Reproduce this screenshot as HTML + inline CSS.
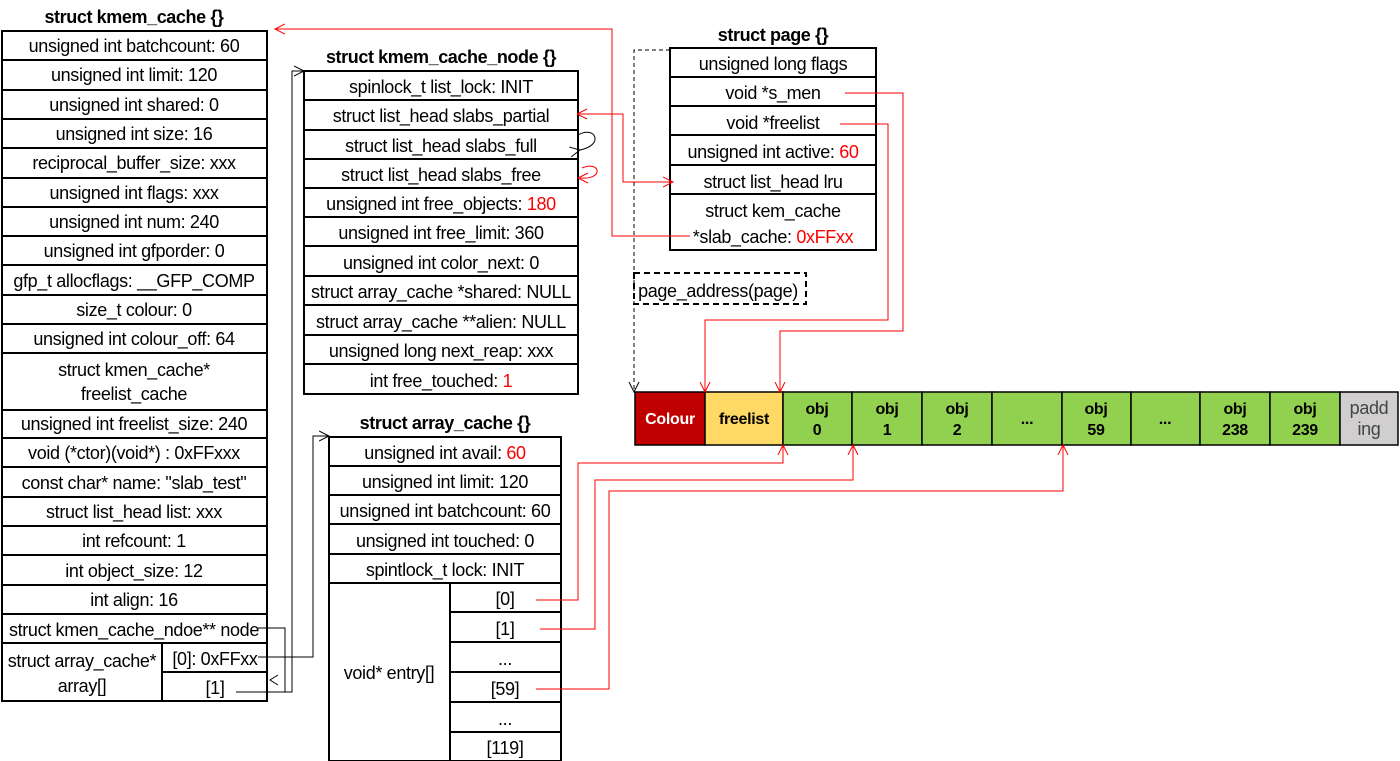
<!DOCTYPE html>
<html><head><meta charset="utf-8"><style>
html,body{margin:0;padding:0;background:#fff;width:1400px;height:761px;overflow:hidden}
svg text{font-family:"Liberation Sans",sans-serif;font-size:18px;letter-spacing:-0.35px;fill:#000}
svg text.t{font-size:18px;font-weight:bold;letter-spacing:-0.4px}
svg text.s{font-size:16px;font-weight:bold;letter-spacing:-0.3px}
</style></head><body>
<svg width="1400" height="761" xmlns="http://www.w3.org/2000/svg">
<defs>
<marker id="ab" markerWidth="12" markerHeight="12" refX="10" refY="6" orient="auto" markerUnits="userSpaceOnUse"><path d="M0,1 L10,6 L0,11" fill="none" stroke="#000" stroke-width="1"/></marker>
<marker id="ar" markerWidth="12" markerHeight="12" refX="10" refY="6" orient="auto" markerUnits="userSpaceOnUse"><path d="M0,1 L10,6 L0,11" fill="none" stroke="#f00" stroke-width="1"/></marker>
<marker id="arS" markerWidth="12" markerHeight="12" refX="0" refY="6" orient="auto" markerUnits="userSpaceOnUse"><path d="M10,1 L0,6 L10,11" fill="none" stroke="#f00" stroke-width="1"/></marker>
</defs>
<g stroke="#000" stroke-width="2" fill="none">
<rect x="2" y="31" width="265" height="670"/>
<path d="M2,60H267M2,90H267M2,119H267M2,148H267M2,178H267M2,207H267M2,236H267M2,265H267M2,295H267M2,324H267M2,353H267M2,410H267M2,438H267M2,467H267M2,497H267M2,526H267M2,555H267M2,585H267M2,614H267M2,643H267M162,643V701M162,672H267"/>
<rect x="304" y="71" width="274" height="323"/>
<path d="M304,100H578M304,130H578M304,159H578M304,188H578M304,217H578M304,246H578M304,276H578M304,305H578M304,335H578M304,364H578"/>
<rect x="329" y="437" width="232" height="324"/>
<path d="M329,466H561M329,495H561M329,524H561M329,554H561M329,583H561M450,583V761M450,612H561M450,642H561M450,672H561M450,702H561M450,732H561"/>
<rect x="670" y="48" width="206" height="202"/>
<path d="M670,77H876M670,106H876M670,135H876M670,165H876M670,194H876"/>
</g>
<g stroke="#000" stroke-width="1.5">
<rect x="635" y="392" width="70" height="53" fill="#c00000"/>
<rect x="705" y="392" width="78" height="53" fill="#ffd966"/>
<rect x="783" y="392" width="69" height="53" fill="#92d050"/>
<rect x="852" y="392" width="70" height="53" fill="#92d050"/>
<rect x="922" y="392" width="70" height="53" fill="#92d050"/>
<rect x="992" y="392" width="70" height="53" fill="#92d050"/>
<rect x="1062" y="392" width="69" height="53" fill="#92d050"/>
<rect x="1131" y="392" width="69" height="53" fill="#92d050"/>
<rect x="1200" y="392" width="70" height="53" fill="#92d050"/>
<rect x="1270" y="392" width="70" height="53" fill="#92d050"/>
<rect x="1340" y="392" width="58" height="53" fill="#d0cece"/>
</g>
<g text-anchor="middle">
<text class="s" x="670" y="424" style="fill:#fff">Colour</text>
<text class="s" x="744" y="424">freelist</text>
<text class="s" x="817" y="414">obj</text><text class="s" x="817" y="435">0</text>
<text class="s" x="887" y="414">obj</text><text class="s" x="887" y="435">1</text>
<text class="s" x="957" y="414">obj</text><text class="s" x="957" y="435">2</text>
<text class="s" x="1027" y="424">...</text>
<text class="s" x="1096" y="414">obj</text><text class="s" x="1096" y="435">59</text>
<text class="s" x="1165" y="424">...</text>
<text class="s" x="1235" y="414">obj</text><text class="s" x="1235" y="435">238</text>
<text class="s" x="1305" y="414">obj</text><text class="s" x="1305" y="435">239</text>
<text x="1369" y="414" style="fill:#444">padd</text><text x="1369" y="435" style="fill:#444">ing</text>
</g>
<g text-anchor="middle">
<text class="t" x="134" y="23">struct kmem_cache {}</text>
<text class="t" x="441" y="63">struct kmem_cache_node {}</text>
<text class="t" x="445" y="429">struct array_cache {}</text>
<text class="t" x="773" y="41">struct page {}</text>
</g>
<g text-anchor="middle">
<text x="134" y="52">unsigned int batchcount: 60</text>
<text x="134" y="81">unsigned int limit: 120</text>
<text x="134" y="111">unsigned int shared: 0</text>
<text x="134" y="140">unsigned int size: 16</text>
<text x="134" y="169">reciprocal_buffer_size: xxx</text>
<text x="134" y="199">unsigned int flags: xxx</text>
<text x="134" y="228">unsigned int num: 240</text>
<text x="134" y="257">unsigned int gfporder: 0</text>
<text x="134" y="287">gfp_t allocflags: __GFP_COMP</text>
<text x="134" y="316">size_t colour: 0</text>
<text x="134" y="345">unsigned int colour_off: 64</text>
<text x="134" y="376">struct kmen_cache*</text>
<text x="134" y="400">freelist_cache</text>
<text x="134" y="430">unsigned int freelist_size: 240</text>
<text x="134" y="459">void (*ctor)(void*) : 0xFFxxx</text>
<text x="134" y="489">const char* name: "slab_test"</text>
<text x="134" y="518">struct list_head list: xxx</text>
<text x="134" y="547">int refcount: 1</text>
<text x="134" y="577">int object_size: 12</text>
<text x="134" y="606">int align: 16</text>
<text x="134" y="636">struct kmen_cache_ndoe** node</text>
<text x="82" y="667">struct array_cache*</text>
<text x="82" y="692">array[]</text>
<text x="215" y="665">[0]: 0xFFxx</text>
<text x="215" y="694">[1]</text>
</g>
<g text-anchor="middle">
<text x="441" y="93">spinlock_t list_lock: INIT</text>
<text x="441" y="122">struct list_head slabs_partial</text>
<text x="441" y="152">struct list_head slabs_full</text>
<text x="441" y="181">struct list_head slabs_free</text>
<text x="441" y="210">unsigned int free_objects: <tspan style="fill:#f00">180</tspan></text>
<text x="441" y="239">unsigned int free_limit: 360</text>
<text x="441" y="269">unsigned int color_next: 0</text>
<text x="441" y="298">struct array_cache *shared: NULL</text>
<text x="441" y="328">struct array_cache **alien: NULL</text>
<text x="441" y="357">unsigned long next_reap: xxx</text>
<text x="441" y="387">int free_touched: <tspan style="fill:#f00">1</tspan></text>
</g>
<g text-anchor="middle">
<text x="445" y="459">unsigned int avail: <tspan style="fill:#f00">60</tspan></text>
<text x="445" y="488">unsigned int limit: 120</text>
<text x="445" y="517">unsigned int batchcount: 60</text>
<text x="445" y="547">unsigned int touched: 0</text>
<text x="445" y="576">spintlock_t lock: INIT</text>
<text x="389" y="679">void* entry[]</text>
<text x="505" y="605">[0]</text>
<text x="505" y="635">[1]</text>
<text x="505" y="665">...</text>
<text x="505" y="695">[59]</text>
<text x="505" y="725">...</text>
<text x="505" y="754">[119]</text>
</g>
<g text-anchor="middle">
<text x="773" y="70">unsigned long flags</text>
<text x="773" y="99">void *s_men</text>
<text x="773" y="129">void *freelist</text>
<text x="773" y="158">unsigned int active: <tspan style="fill:#f00">60</tspan></text>
<text x="773" y="188">struct list_head lru</text>
<text x="773" y="217">struct kem_cache</text>
<text x="773" y="243">*slab_cache: <tspan style="fill:#f00">0xFFxx</tspan></text>
</g>
<rect x="634" y="273" width="172" height="31" fill="none" stroke="#000" stroke-width="2" stroke-dasharray="6,4"/>
<text x="718" y="297" text-anchor="middle">page_address(page)</text>
<path d="M670,50H634V392" fill="none" stroke="#000" stroke-width="1" stroke-dasharray="4,3" marker-end="url(#ab)"/>
<g fill="none" stroke="#000" stroke-width="1">
<path d="M258,628H285V692"/>
<path d="M236,692H292V71H304" marker-end="url(#ab)"/>
<path d="M258,657H313V436H329" marker-end="url(#ab)"/>
<path d="M278,675L270,680L278,685"/>
<path d="M580,150 C605,145 595,125 578,135" marker-start="url(#ab)"/>
</g>
<g fill="none" stroke="#f00" stroke-width="1">
<path d="M580,178 C605,180 600,160 582,168"/>
<path d="M588,173L578,178L588,183"/>
<path d="M690,236H612V29H275" marker-end="url(#ar)"/>
<path d="M577,114H623V182H673" marker-start="url(#arS)" marker-end="url(#ar)"/>
<path d="M845,93H903V331H780V392" marker-end="url(#ar)"/>
<path d="M840,124H888V320H705V392" marker-end="url(#ar)"/>
<path d="M536,600H578V463H783V445" marker-end="url(#ar)"/>
<path d="M540,629H595V480H853V445" marker-end="url(#ar)"/>
<path d="M536,689H609V491H1063V445" marker-end="url(#ar)"/>
</g>
</svg>
</body></html>
